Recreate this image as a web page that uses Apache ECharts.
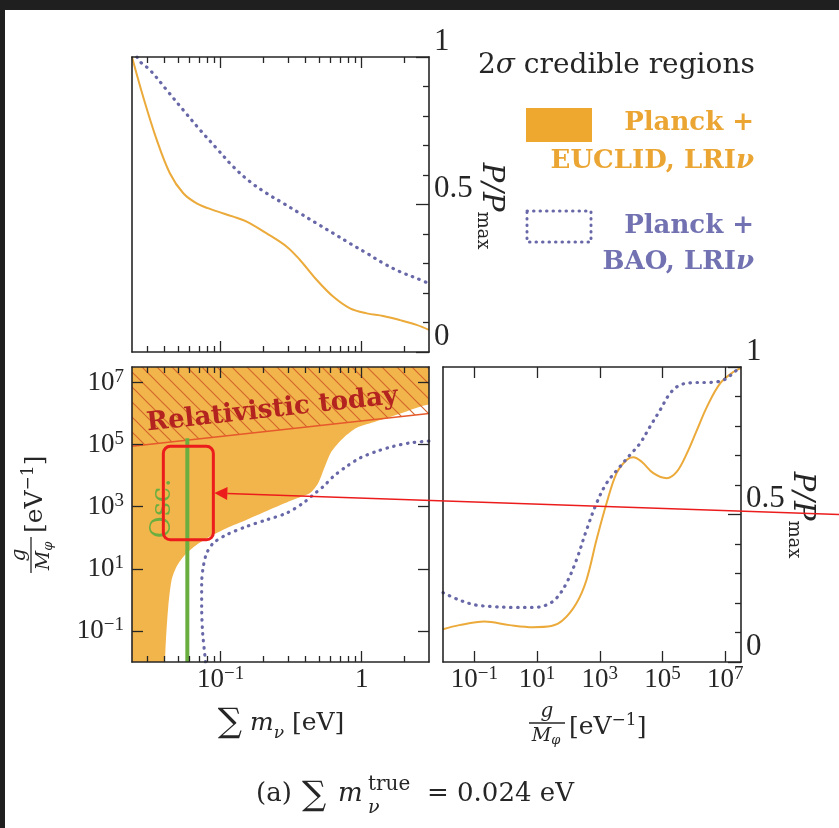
<!DOCTYPE html>
<html>
<head>
<meta charset="utf-8">
<script src="https://cdn.jsdelivr.net/npm/echarts@6/dist/echarts.min.js"></script>
<style>
  html, body { margin: 0; padding: 0; background: #ffffff; }
  #chart { width: 839px; height: 828px; }
</style>
</head>
<body>
<div id="chart"></div>
<script>
// ---------------------------------------------------------------------------
// Data
// ---------------------------------------------------------------------------

// Axis ranges
const MASS_MIN = 0.0235, MASS_MAX = 3;          // sum of neutrino masses [eV]
const COUPLING_MIN = 1e-2, COUPLING_MAX = 3.1623e7; // g / M_phi [1/eV]

// Tick positions
const massTicksMajor = [0.1, 1];
const massTicksMinor = [0.03, 0.04, 0.05, 0.06, 0.07, 0.08, 0.09,
                        0.2, 0.3, 0.4, 0.5, 0.6, 0.7, 0.8, 0.9, 2];
const couplingTicks = [1e-1, 1e1, 1e3, 1e5, 1e7];
const probTicksMajor = [0, 0.5, 1];
const probTicksMinor = [0.1, 0.2, 0.3, 0.4, 0.6, 0.7, 0.8, 0.9];

// Marginal posterior P/Pmax of sum m_nu
const euclidMassPosterior = [
  [0.0235, 1.0], [0.0282, 0.865], [0.0352, 0.719], [0.0436, 0.606], [0.0543, 0.538],
  [0.0676, 0.504], [0.0887, 0.481], [0.1228, 0.459], [0.1528, 0.442], [0.2118, 0.402],
  [0.294, 0.357], [0.365, 0.312], [0.48, 0.244], [0.63, 0.187], [0.826, 0.148],
  [1.085, 0.131], [1.42, 0.122], [1.87, 0.108], [2.45, 0.092], [3.0, 0.075]
];
const baoMassPosterior = [
  [0.0255, 1.0], [0.0268, 0.984], [0.0315, 0.956], [0.0414, 0.888], [0.0543, 0.820],
  [0.0713, 0.753], [0.0937, 0.690], [0.1228, 0.628], [0.1614, 0.577], [0.2118, 0.538],
  [0.278, 0.504], [0.365, 0.470], [0.48, 0.436], [0.63, 0.402], [0.826, 0.368],
  [1.085, 0.335], [1.42, 0.301], [1.87, 0.272], [2.45, 0.250], [3.0, 0.232]
];

// Marginal posterior P/Pmax of g/M_phi
const euclidCouplingPosterior = [
  [1e-2, 0.111], [3.3e-2, 0.125], [0.209, 0.137], [1.32, 0.125], [7.35, 0.118],
  [28.4, 0.122], [67, 0.142], [179.5, 0.199], [375, 0.278], [783, 0.414],
  [1637, 0.538], [3420, 0.640], [7145, 0.685], [1.164e4, 0.694], [2.158e4, 0.679],
  [5.08e4, 0.640], [1.361e5, 0.623], [2.844e5, 0.645], [5.943e5, 0.707], [1.242e6, 0.786],
  [2.594e6, 0.865], [6.918e6, 0.945], [1.845e7, 0.984], [3.162e7, 0.996]
];
const baoCouplingPosterior = [
  [1e-2, 0.235], [3.3e-2, 0.210], [0.113, 0.193], [0.385, 0.188], [1.68, 0.185],
  [7.35, 0.185], [19.7, 0.193], [41.1, 0.216], [85.9, 0.267], [179.5, 0.346],
  [375, 0.447], [783, 0.538], [1637, 0.606], [4365, 0.662], [9120, 0.702],
  [1.905e4, 0.741], [3.98e4, 0.798], [8.32e4, 0.854], [1.74e5, 0.911], [3.63e5, 0.939],
  [9.68e5, 0.947], [3.31e6, 0.948], [8.83e6, 0.956], [2.37e7, 0.990], [3.162e7, 1.0]
];

// 2-sigma region (Planck + EUCLID): its lower-right edge, from the bottom upwards
const euclidRegionEdge = [
  [0.0403, 0.01], [0.0409, 0.051], [0.0425, 0.608], [0.0449, 4.42], [0.0487, 11.9],
  [0.0559, 28.3], [0.0676, 59.4], [0.084, 110], [0.110, 204], [0.153, 380],
  [0.236, 908], [0.327, 1683], [0.430, 2754], [0.492, 5821], [0.549, 2.0e4],
  [0.612, 6.08e4], [0.741, 1.644e5], [0.922, 3.467e5], [1.21, 5.25e5], [1.585, 7.76e5],
  [2.08, 1.175e6], [3.0, 1.95e6]
];
// 2-sigma contour (Planck + BAO)
const baoRegionEdge = [
  [0.078, 0.01], [0.0774, 0.0148], [0.0745, 0.085], [0.0733, 0.608], [0.0733, 3.46],
  [0.0753, 11.9], [0.0796, 32.1], [0.0887, 67.5], [0.110, 125], [0.153, 232],
  [0.212, 380], [0.294, 627], [0.385, 1318], [0.454, 2438], [0.535, 4519],
  [0.630, 9484], [0.783, 2.0e4], [0.973, 3.724e4], [1.277, 6.08e4], [1.674, 8.81e4],
  [2.20, 1.135e5], [3.0, 1.3e5]
];
// Boundary above which the neutrinos are still relativistic today
const relativisticEdge = [[0.0235, 8.85e4], [3.0, 1.0e6]];
// Lower bound on sum m_nu from oscillations
const oscillationBound = [[0.058, 0.01], [0.058, 1.6e5]];
// Label anchors (data coordinates)
const relativisticLabelAt = [0.232, 1.3e6];
const oscLabelAt = [0.0392, 890];
// Highlighted box
const highlightBox = [[0.0392, 86], [0.0887, 8.8e4]];

// ---------------------------------------------------------------------------
// Styles
// ---------------------------------------------------------------------------
const INK = '#262626';
const NUM_FONT = '"Liberation Serif", "Times New Roman", serif';
const TXT_FONT = '"DejaVu Serif", serif';
const ORANGE_LINE = '#ebaa3a';
const ORANGE_FILL = '#f2b54c';
const PURPLE = '#6868a8';
const dotted = { type: [0.5, 6.5], cap: 'round', width: 3.2, color: PURPLE };

// diagonal hatching tile
const hatchTile = document.createElement('canvas');
hatchTile.width = 15; hatchTile.height = 15;
(function () {
  const g = hatchTile.getContext('2d');
  g.strokeStyle = '#d4672c';
  g.lineWidth = 1.2;
  g.beginPath();
  g.moveTo(-2, -2); g.lineTo(17, 17);
  g.moveTo(-2, 13); g.lineTo(2, 17);
  g.moveTo(13, -2); g.lineTo(17, 2);
  g.stroke();
})();

const frameLine = { show: true, onZero: false, lineStyle: { color: INK, width: 1.6 } };
function ticks(values, length) {
  return { show: true, inside: true, length: length, customValues: values,
           lineStyle: { color: INK, width: 1.3 } };
}
function axis(cfg) {
  return Object.assign({
    z: 10,
    splitLine: { show: false },
    axisLabel: { show: false },
    axisTick: { show: false },
    axisLine: { show: false, onZero: false },
    axisPointer: { show: false }
  }, cfg);
}
function massAxis(grid, pos, t, len, line, label) {
  return axis({ type: 'log', gridIndex: grid, position: pos, min: MASS_MIN, max: MASS_MAX,
    axisLine: line ? frameLine : { show: false, onZero: false },
    axisTick: ticks(t, len), axisLabel: label || { show: false } });
}
function couplingAxis(grid, pos, label) {
  return axis({ type: 'log', gridIndex: grid, position: pos, min: COUPLING_MIN, max: COUPLING_MAX,
    axisLine: frameLine, axisTick: ticks(couplingTicks, 11), axisLabel: label || { show: false } });
}
function probAxis(grid, pos, t, len, line, label) {
  return axis({ type: 'value', gridIndex: grid, position: pos, min: 0, max: 1,
    axisLine: line ? frameLine : { show: false, onZero: false },
    axisTick: t ? ticks(t, len) : { show: false },
    axisLabel: label || { show: false } });
}

const powerRich = {
  b: { fontFamily: NUM_FONT, fontSize: 27, color: INK, lineHeight: 30 },
  s: { fontFamily: NUM_FONT, fontSize: 19, color: INK, lineHeight: 14, verticalAlign: 'top' }
};
function powerLabel(v) {
  const e = Math.round(Math.log10(v));
  if (e === 0) return '{b|1}';
  return '{b|10}{s|' + (e < 0 ? '\u2212' + (-e) : e) + '}';
}
const massLabel = { show: true, customValues: massTicksMajor, margin: 3,
                    formatter: powerLabel, rich: powerRich };
const couplingLabelX = { show: true, customValues: couplingTicks, margin: 3,
                         formatter: powerLabel, rich: powerRich };
const couplingLabelY = { show: true, customValues: couplingTicks, margin: 8,
                         formatter: powerLabel, rich: powerRich };
const probLabel = { show: true, customValues: probTicksMajor, margin: 5, verticalAlign: 'bottom',
                    fontFamily: NUM_FONT, fontSize: 31, color: INK,
                    formatter: function (v) { return String(v); } };

// ---------------------------------------------------------------------------
// Titles and legend (graphic elements)
// ---------------------------------------------------------------------------
function couplingTitle(id, x, y, rotation) {
  return {
    type: 'group', id: id, x: x, y: y, rotation: rotation,
    children: [
      { type: 'text', x: -43, y: -5, style: { text: 'g', font: 'italic 20px ' + TXT_FONT,
        fill: INK, align: 'center', verticalAlign: 'bottom' } },
      { type: 'line', shape: { x1: -61, y1: -4, x2: -25, y2: -4 },
        style: { stroke: INK, lineWidth: 1.3 } },
      { type: 'text', x: -44, y: -2, style: { text: '{i|M}{s|\u03c6}', align: 'center', verticalAlign: 'top',
        rich: { i: { fontFamily: TXT_FONT, fontStyle: 'italic', fontSize: 19, fill: INK, color: INK, lineHeight: 22 },
                s: { fontFamily: TXT_FONT, fontStyle: 'italic', fontSize: 13, fill: INK, color: INK, lineHeight: 12, verticalAlign: 'bottom' } } } },
      { type: 'text', x: -21, y: 0, style: { text: '{r|[eV}{s|\u22121}{r|]}', align: 'left', verticalAlign: 'middle',
        rich: { r: { fontFamily: TXT_FONT, fontSize: 25, fill: INK, color: INK, lineHeight: 30 },
                s: { fontFamily: TXT_FONT, fontSize: 17, fill: INK, color: INK, lineHeight: 14, verticalAlign: 'top' } } } }
    ]
  };
}
function probTitle(id, x, y) {
  return {
    type: 'group', id: id, x: x, y: y, rotation: -Math.PI / 2,
    children: [
      { type: 'text', x: 0, y: 0, style: { text: '{i|P/P}{s|max}', align: 'center', verticalAlign: 'middle',
        rich: { i: { fontFamily: TXT_FONT, fontStyle: 'italic', fontSize: 29, fill: INK, color: INK, lineHeight: 34 },
                s: { fontFamily: TXT_FONT, fontSize: 18, fill: INK, color: INK, lineHeight: 16, verticalAlign: 'bottom' } } } }
    ]
  };
}

const graphics = [
  // dark surround
  { type: 'rect', id: 'edgeTop', shape: { x: 0, y: 0, width: 839, height: 10 }, style: { fill: '#1f1f1f' } },
  { type: 'rect', id: 'edgeLeft', shape: { x: 0, y: 0, width: 5, height: 828 }, style: { fill: '#1f1f1f' } },

  // legend
  { type: 'text', id: 'legTitle', x: 478, y: 66, style: { text: '{n|2}{i|\u03c3}{n| credible regions}', verticalAlign: 'middle',
    rich: { n: { fontFamily: TXT_FONT, fontSize: 28, fill: INK, color: INK },
            i: { fontFamily: TXT_FONT, fontStyle: 'italic', fontSize: 28, fill: INK, color: INK } } } },
  { type: 'rect', id: 'legBoxA', shape: { x: 526, y: 108, width: 66, height: 34 }, style: { fill: '#efa82f' } },
  { type: 'text', id: 'legA1', x: 754, y: 123, style: { text: 'Planck +', font: 'bold 26px ' + TXT_FONT,
    fill: '#eba533', align: 'right', verticalAlign: 'middle' } },
  { type: 'text', id: 'legA2', x: 754, y: 161, style: { text: '{b|EUCLID, LRI}{i|\u03bd}', align: 'right', verticalAlign: 'middle',
    rich: { b: { fontFamily: TXT_FONT, fontWeight: 'bold', fontSize: 26, fill: '#eba533', color: '#eba533' },
            i: { fontFamily: TXT_FONT, fontWeight: 'bold', fontStyle: 'italic', fontSize: 26, fill: '#eba533', color: '#eba533' } } } },
  { type: 'rect', id: 'legBoxB', shape: { x: 527, y: 211, width: 64, height: 31 },
    style: { fill: 'none', stroke: PURPLE, lineWidth: 3, lineDash: [0.5, 6], lineCap: 'round' } },
  { type: 'text', id: 'legB1', x: 754, y: 226, style: { text: 'Planck +', font: 'bold 26px ' + TXT_FONT,
    fill: '#7272b2', align: 'right', verticalAlign: 'middle' } },
  { type: 'text', id: 'legB2', x: 754, y: 262, style: { text: '{b|BAO, LRI}{i|\u03bd}', align: 'right', verticalAlign: 'middle',
    rich: { b: { fontFamily: TXT_FONT, fontWeight: 'bold', fontSize: 26, fill: '#7272b2', color: '#7272b2' },
            i: { fontFamily: TXT_FONT, fontWeight: 'bold', fontStyle: 'italic', fontSize: 26, fill: '#7272b2', color: '#7272b2' } } } },

  // axis titles
  probTitle('probTitleTop', 491, 206),
  probTitle('probTitleRight', 802, 515),
  couplingTitle('couplingTitleLeft', 35, 512, Math.PI / 2),
  couplingTitle('couplingTitleBottom', 590, 727, 0),
  { type: 'text', id: 'massTitle', x: 281, y: 723, style: { text: '{S|\u2211}{t| }{i|m}{s|\u03bd}{t| [eV]}', align: 'center', verticalAlign: 'middle',
    rich: { S: { fontFamily: TXT_FONT, fontSize: 34, fill: INK, color: INK, lineHeight: 38 },
            t: { fontFamily: TXT_FONT, fontSize: 25, fill: INK, color: INK, lineHeight: 30 },
            i: { fontFamily: TXT_FONT, fontStyle: 'italic', fontSize: 25, fill: INK, color: INK, lineHeight: 30 },
            s: { fontFamily: TXT_FONT, fontStyle: 'italic', fontSize: 17, fill: INK, color: INK, lineHeight: 13, verticalAlign: 'bottom' } } } },

  // caption
  { type: 'text', id: 'capA', x: 256, y: 794, style: { text: '(a)', font: '26px ' + TXT_FONT, fill: INK, verticalAlign: 'middle' } },
  { type: 'text', id: 'capSum', x: 302, y: 796, style: { text: '\u2211', font: '34px ' + TXT_FONT, fill: INK, verticalAlign: 'middle' } },
  { type: 'text', id: 'capM', x: 338, y: 794, style: { text: 'm', font: 'italic 26px ' + TXT_FONT, fill: INK, verticalAlign: 'middle' } },
  { type: 'text', id: 'capTrue', x: 368, y: 785, style: { text: 'true', font: '20px ' + TXT_FONT, fill: INK, verticalAlign: 'middle' } },
  { type: 'text', id: 'capNu', x: 368, y: 808, style: { text: '\u03bd', font: 'italic 19px ' + TXT_FONT, fill: INK, verticalAlign: 'middle' } },
  { type: 'text', id: 'capVal', x: 427, y: 794, style: { text: '= 0.024 eV', font: '26px ' + TXT_FONT, fill: INK, verticalAlign: 'middle' } }
];

// ---------------------------------------------------------------------------
// Option
// ---------------------------------------------------------------------------
const option = {
  animation: false,
  backgroundColor: '#ffffff',
  grid: [
    { left: 132, top: 57, width: 297, height: 295, outerBoundsMode: 'none', containLabel: false },
    { left: 132, top: 367, width: 297, height: 295, outerBoundsMode: 'none', containLabel: false },
    { left: 443, top: 367, width: 298, height: 295, outerBoundsMode: 'none', containLabel: false }
  ],
  xAxis: [
    massAxis(0, 'bottom', massTicksMajor, 11, true),
    massAxis(0, 'bottom', massTicksMinor, 6, false),
    massAxis(0, 'top', massTicksMajor, 11, true),
    massAxis(0, 'top', massTicksMinor, 6, false),
    massAxis(1, 'bottom', massTicksMajor, 11, true, massLabel),
    massAxis(1, 'bottom', massTicksMinor, 6, false),
    massAxis(1, 'top', massTicksMajor, 11, true),
    massAxis(1, 'top', massTicksMinor, 6, false),
    couplingAxis(2, 'bottom', couplingLabelX),
    couplingAxis(2, 'top')
  ],
  yAxis: [
    probAxis(0, 'right', probTicksMajor, 13, true, probLabel),
    probAxis(0, 'right', probTicksMinor, 6, false),
    probAxis(0, 'left', null, 0, true),
    couplingAxis(1, 'left', couplingLabelY),
    couplingAxis(1, 'right'),
    probAxis(2, 'right', probTicksMajor, 13, true, probLabel),
    probAxis(2, 'right', probTicksMinor, 6, false),
    probAxis(2, 'left', null, 0, true)
  ],
  graphic: graphics,
  series: [
    // top-left: marginal posteriors of sum m_nu
    { type: 'line', xAxisIndex: 0, yAxisIndex: 0, data: euclidMassPosterior, smooth: 0.35,
      symbol: 'none', silent: true, lineStyle: { color: ORANGE_LINE, width: 2 } },
    { type: 'line', xAxisIndex: 0, yAxisIndex: 0, data: baoMassPosterior, smooth: 0.35,
      symbol: 'none', silent: true, lineStyle: dotted },

    // bottom-left: filled Planck + EUCLID region
    { type: 'custom', xAxisIndex: 4, yAxisIndex: 3, clip: true, silent: true, z: 1,
      data: [euclidRegionEdge[0]],
      renderItem: function (params, api) {
        const last = euclidRegionEdge[euclidRegionEdge.length - 1];
        const ring = [[MASS_MIN * 0.5, COUPLING_MAX * 10], [MASS_MIN * 0.5, COUPLING_MIN * 0.1],
                      [euclidRegionEdge[0][0], COUPLING_MIN * 0.1]]
          .concat(euclidRegionEdge)
          .concat([[MASS_MAX * 2, last[1]], [MASS_MAX * 2, COUPLING_MAX * 10]]);
        return { type: 'polygon', shape: { points: ring.map(function (p) { return api.coord(p); }), smooth: 0.25 },
                 style: { fill: ORANGE_FILL } };
      } },
    // hatched "relativistic today" zone
    { type: 'custom', xAxisIndex: 4, yAxisIndex: 3, clip: true, silent: true, z: 2,
      data: [relativisticEdge[0]],
      renderItem: function (params, api) {
        const ring = [relativisticEdge[0], relativisticEdge[1],
                      [relativisticEdge[1][0], COUPLING_MAX], [relativisticEdge[0][0], COUPLING_MAX]];
        return { type: 'polygon', shape: { points: ring.map(function (p) { return api.coord(p); }) },
                 style: { fill: { image: hatchTile, repeat: 'repeat' } } };
      } },
    { type: 'line', xAxisIndex: 4, yAxisIndex: 3, data: relativisticEdge, symbol: 'none', silent: true, z: 3,
      lineStyle: { color: '#e5592b', width: 1.6 } },
    { type: 'line', xAxisIndex: 4, yAxisIndex: 3, data: baoRegionEdge, smooth: 0.3, symbol: 'none', silent: true, z: 3,
      lineStyle: dotted },
    { type: 'line', xAxisIndex: 4, yAxisIndex: 3, data: oscillationBound, symbol: 'none', silent: true, z: 4,
      lineStyle: { color: '#6aae3f', width: 4 } },
    // region labels
    { type: 'custom', xAxisIndex: 4, yAxisIndex: 3, clip: false, silent: true, z: 5,
      data: [relativisticLabelAt],
      renderItem: function (params, api) {
        const a = api.coord(relativisticEdge[0]), b = api.coord(relativisticEdge[1]);
        const p = api.coord(relativisticLabelAt);
        return { type: 'text', x: p[0], y: p[1], rotation: Math.atan2(a[1] - b[1], b[0] - a[0]),
                 style: { text: 'Relativistic today', fill: '#b3231f', font: 'bold 26px ' + TXT_FONT,
                          align: 'center', verticalAlign: 'middle' } };
      } },
    { type: 'custom', xAxisIndex: 4, yAxisIndex: 3, clip: false, silent: true, z: 5,
      data: [oscLabelAt],
      renderItem: function (params, api) {
        const p = api.coord(oscLabelAt);
        return { type: 'text', x: p[0], y: p[1], rotation: Math.PI / 2,
                 style: { text: 'Osc.', fill: '#6aae3f', font: '27px ' + TXT_FONT,
                          align: 'center', verticalAlign: 'middle' } };
      } },

    // bottom-right: marginal posteriors of g/M_phi
    { type: 'line', xAxisIndex: 8, yAxisIndex: 5, data: euclidCouplingPosterior, smooth: 0.35,
      symbol: 'none', silent: true, lineStyle: { color: ORANGE_LINE, width: 2 } },
    { type: 'line', xAxisIndex: 8, yAxisIndex: 5, data: baoCouplingPosterior, smooth: 0.35,
      symbol: 'none', silent: true, lineStyle: dotted }
  ]
};

const chart = echarts.init(document.getElementById('chart'), null, { renderer: 'canvas' });
chart.setOption(option);

// highlight box with a pointer arrow coming in from the right edge
(function () {
  const finder = { xAxisIndex: 4, yAxisIndex: 3 };
  const c0 = chart.convertToPixel(finder, highlightBox[0]);
  const c1 = chart.convertToPixel(finder, highlightBox[1]);
  const x0 = Math.min(c0[0], c1[0]), x1 = Math.max(c0[0], c1[0]);
  const y0 = Math.min(c0[1], c1[1]), y1 = Math.max(c0[1], c1[1]);
  const tip = [x1 + 1, (y0 + y1) / 2];
  const tail = [chart.getWidth(), chart.convertToPixel({ yAxisIndex: 5 }, 0.5)];
  const dx = tail[0] - tip[0], dy = tail[1] - tip[1];
  const len = Math.sqrt(dx * dx + dy * dy), ux = dx / len, uy = dy / len;
  const headLen = 13, headHalf = 6.5;
  const base = [tip[0] + ux * headLen, tip[1] + uy * headLen];
  const RED = '#ec1c1c';
  chart.setOption({
    graphic: [
      { type: 'rect', id: 'hlBox', z: 100, shape: { x: x0, y: y0, width: x1 - x0, height: y1 - y0, r: 7 },
        style: { fill: 'none', stroke: RED, lineWidth: 3 } },
      { type: 'line', id: 'hlLine', z: 100, shape: { x1: base[0], y1: base[1], x2: tail[0], y2: tail[1] },
        style: { stroke: RED, lineWidth: 1.6 } },
      { type: 'polygon', id: 'hlHead', z: 100,
        shape: { points: [tip, [base[0] - uy * headHalf, base[1] + ux * headHalf], [base[0] + uy * headHalf, base[1] - ux * headHalf]] },
        style: { fill: RED } }
    ]
  });
})();
</script>
</body>
</html>
